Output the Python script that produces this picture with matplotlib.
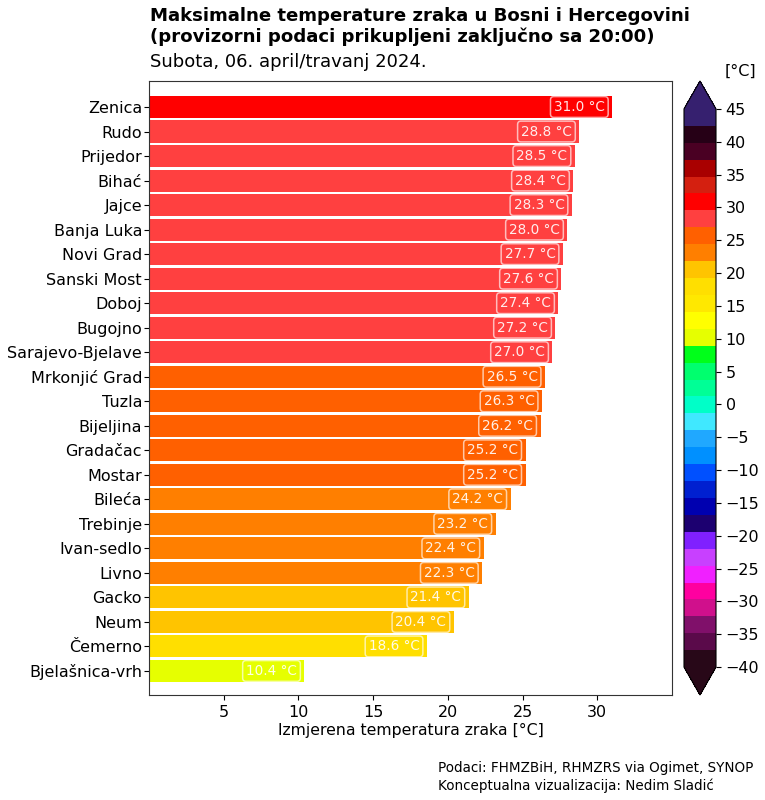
import matplotlib
matplotlib.use("Agg")
import matplotlib.pyplot as plt
from matplotlib.colors import ListedColormap, BoundaryNorm
from matplotlib.cm import ScalarMappable
import numpy as np

#data
stations = ["Zenica", "Rudo", "Prijedor", "Bihać", "Jajce", "Banja Luka", "Novi Grad", "Sanski Most",
            "Doboj", "Bugojno", "Sarajevo-Bjelave", "Mrkonjić Grad", "Tuzla", "Bijeljina", "Gradačac",
            "Mostar", "Bileća", "Trebinje", "Ivan-sedlo", "Livno", "Gacko", "Neum", "Čemerno", "Bjelašnica-vrh"]
temps = [31.0, 28.8, 28.5, 28.4, 28.3, 28.0, 27.7, 27.6, 27.4, 27.2, 27.0, 26.5,
         26.3, 26.2, 25.2, 25.2, 24.2, 23.2, 22.4, 22.3, 21.4, 20.4, 18.6, 10.4]

# colour scale, cold to hot
scale_colors = ["#280818", "#5a0a4a", "#80106a", "#d0108c", "#ff00a0", "#f020ff", "#c840ff", "#8020ff",
                "#1c0070", "#0000b0", "#0020d0", "#0050ff", "#0090ff", "#20a8ff", "#40e8ff", "#00ffc8",
                "#00ff96", "#00ff6e", "#00ff1a", "#e6ff00", "#ffff00", "#ffe800", "#ffdf00", "#ffc400",
                "#ff7f00", "#ff6000", "#ff4040", "#ff0000", "#d42010", "#a90000", "#4a0023", "#260016",
                "#36206f"]
scale_min = -40
scale_max = 45
scale_ticks = list(range(-40, 50, 5))

W, H = 765, 800
cmap = ListedColormap(scale_colors)
cmap.set_under(scale_colors[0])
cmap.set_over(scale_colors[-1])
norm = BoundaryNorm(np.linspace(scale_min, scale_max, len(scale_colors) + 1), cmap.N)

fig = plt.figure(figsize=(W / 100, H / 100), dpi=100)
ax = fig.add_axes([149 / W, 1 - 695 / H, 523 / W, 614 / H])

y = range(len(stations))
ax.barh(y, temps, height=0.9, color=cmap(norm(temps)))
for i, t in zip(y, temps):
    ax.text(t - 0.5, i, "%.1f °C" % t, color="white", fontsize=9.8, ha="right", va="center", alpha=0.9,
            bbox=dict(boxstyle="round,pad=0.25", facecolor="none", edgecolor="white", alpha=0.65, linewidth=1.1))

ax.set_yticks(list(y))
ax.set_yticklabels(stations, fontsize=11.5)
ax.set_xticks([5, 10, 15, 20, 25, 30])
ax.tick_params(axis="x", labelsize=11.5)
ax.tick_params(axis="y", pad=1.5)
ax.set_xlim(0, 35)
ax.set_ylim(23.98, -1.06)
ax.set_xlabel("Izmjerena temperatura zraka [°C]", fontsize=11.3, labelpad=2)
for s in ax.spines.values():
    s.set_color("#333333")

# colorbar axes includes the two arrow tips
cax = fig.add_axes([684 / W, 1 - 695 / H, 32 / W, 614 / H])
cb = fig.colorbar(ScalarMappable(norm=norm, cmap=cmap), cax=cax, extend="both", spacing="proportional",
                  ticks=scale_ticks, extendfrac=0.05, drawedges=False)
cb.ax.tick_params(labelsize=11.5)
cb.ax.minorticks_off()
fig.text(740 / W, 1 - 71 / H, "[°C]", fontsize=11.5, ha="center", va="center")

fig.text(150 / W, 1 - 16 / H, "Maksimalne temperature zraka u Bosni i Hercegovini", fontsize=13.1,
         fontweight="bold", va="center")
fig.text(150 / W, 1 - 37 / H, "(provizorni podaci prikupljeni zaključno sa 20:00)", fontsize=13.1,
         fontweight="bold", va="center")
fig.text(150 / W, 1 - 62 / H, "Subota, 06. april/travanj 2024.", fontsize=13, va="center")
fig.text(438 / W, 1 - 768 / H, "Podaci: FHMZBiH, RHMZRS via Ogimet, SYNOP", fontsize=9.75, va="center")
fig.text(438 / W, 1 - 786 / H, "Konceptualna vizualizacija: Nedim Sladić", fontsize=9.75, va="center")

fig.savefig("out.png", dpi=100)
